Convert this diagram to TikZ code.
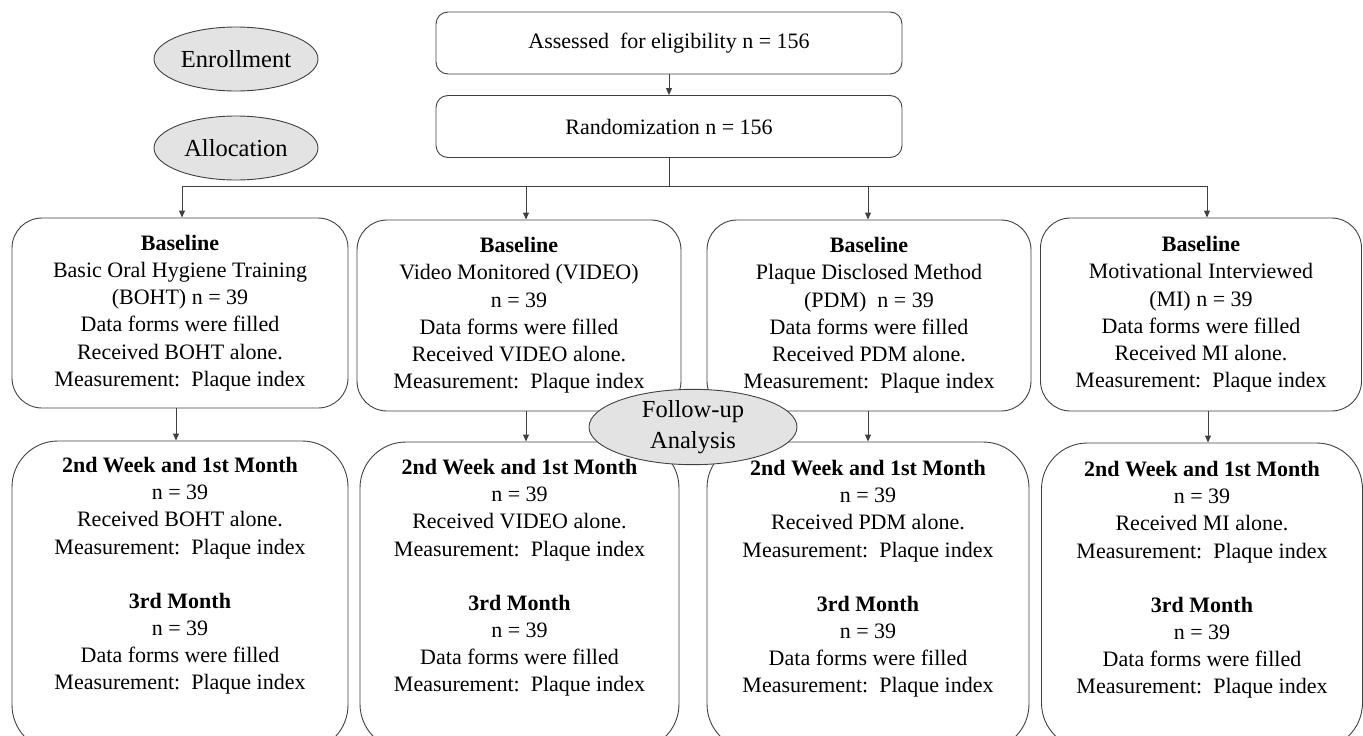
\documentclass[tikz,border=0pt]{standalone}
\usepackage{fontspec}
\setmainfont{Liberation Serif}
\usetikzlibrary{shapes.geometric,arrows.meta}
\begin{document}
\begin{tikzpicture}[x=1pt,y=-1pt,
  line width=0.9pt,
  lc/.style={draw=black!75},
  arr/.style={lc,-{Triangle[length=7pt,width=6pt]}},
  txt/.style={font=\fontsize{22}{27.2}\selectfont,align=center,inner sep=0pt},
  topbox/.style={lc,rounded corners=12pt,minimum width=466pt,minimum height=62pt,txt},
  basebox/.style={lc,rounded corners=30pt,txt},
  fubox/.style={lc,rounded corners=46pt},
  oval/.style={lc,ellipse,fill=black!11,inner sep=0pt,font=\fontsize{24.5}{31}\selectfont,align=center}
]
\useasboundingbox (0,0) rectangle (1363,736);

% top boxes
\node[topbox] (A) at (669,43) {Assessed\ \ for eligibility\ n = 156};
\node[topbox] (R) at (669,126.5) {Randomization\ n = 156};

% side ovals
\node[oval,minimum width=164pt,minimum height=64pt] (EN) at (236,59) {Enrollment};
\node[oval,minimum width=164pt,minimum height=64pt] (AL) at (236,148) {Allocation};

% baseline boxes
\node[basebox,minimum width=336pt,minimum height=190pt] (B1) at (180,313) {\textbf{Baseline}\\Basic Oral Hygiene\ Training\\(BOHT) n = 39\\Data forms were filled\\Received\ BOHT alone.\\Measurement:\ \ Plaque index};
\node[basebox,minimum width=324pt,minimum height=191pt] (B2) at (519,315.5) {\textbf{Baseline}\\Video Monitored (VIDEO)\\n = 39\\Data forms were filled\\Received VIDEO alone.\\Measurement:\ \ Plaque index};
\node[basebox,minimum width=324pt,minimum height=191pt] (B3) at (869,315.5) {\textbf{Baseline}\\Plaque Disclosed Method\\(PDM)\ \ n = 39\\Data forms were filled\\Received PDM alone.\\Measurement:\ \ Plaque index};
\node[basebox,minimum width=321pt,minimum height=193pt] (B4) at (1201,314.5) {\textbf{Baseline}\\Motivational\ Interviewed\\(MI)\ n = 39\\Data forms were filled\\Received\ MI alone.\\Measurement:\ \ Plaque index};

% follow-up boxes
\node[fubox,minimum width=336pt,minimum height=310pt] (C1) at (180,596) {};
\node[fubox,minimum width=319pt,minimum height=308pt] (C2) at (519.5,596) {};
\node[fubox,minimum width=322pt,minimum height=308pt] (C3) at (868,596) {};
\node[fubox,minimum width=321pt,minimum height=306pt] (C4) at (1202,596) {};

\node[txt] (T1) at (C1.center |- 0,576) {\textbf{2nd Week and 1st Month}\\n = 39\\Received\ BOHT alone.\\Measurement:\ \ Plaque index\\[27pt]\textbf{3rd Month}\\n = 39\\Data forms were filled\\Measurement:\ \ Plaque index};
\node[txt] (T2) at (C2.center |- 0,578) {\textbf{2nd Week and 1st Month}\\n = 39\\Received VIDEO alone.\\Measurement:\ \ Plaque index\\[27pt]\textbf{3rd Month}\\n = 39\\Data forms were filled\\Measurement:\ \ Plaque index};
\node[txt] (T3) at (C3.center |- 0,579) {\textbf{2nd Week and 1st Month}\\n = 39\\Received PDM alone.\\Measurement:\ \ Plaque index\\[27pt]\textbf{3rd Month}\\n = 39\\Data forms were filled\\Measurement:\ \ Plaque index};
\node[txt] (T4) at (C4.center |- 0,580) {\textbf{2nd Week and 1st Month}\\n = 39\\Received MI alone.\\Measurement:\ \ Plaque index\\[27pt]\textbf{3rd Month}\\n = 39\\Data forms were filled\\Measurement:\ \ Plaque index};

% connectors
\coordinate (J) at (669,186);
\coordinate (h1) at (182,186);
\coordinate (h2) at (526,186);
\coordinate (h3) at (868,186);
\coordinate (h4) at (1207,186);
\coordinate (v1) at (176,0);
\coordinate (v2) at (526,0);
\coordinate (v3) at (868,0);
\coordinate (v4) at (1208,0);

\draw[arr] (A) -- (R);
\draw[lc] (R.south) -- (J);
\draw[lc] (h1) -- (h4);
\draw[arr] (h1) -- (h1 |- B1.north);
\draw[arr] (h2) -- (h2 |- B2.north);
\draw[arr] (h3) -- (h3 |- B3.north);
\draw[arr] (h4) -- (h4 |- B4.north);

\draw[arr] (v1 |- B1.south) -- (v1 |- C1.north);
\draw[arr] (v2 |- B2.south) -- (v2 |- C2.north);
\draw[arr] (v3 |- B3.south) -- (v3 |- C3.north);
\draw[arr] (v4 |- B4.south) -- (v4 |- C4.north);

% follow-up oval on top
\node[oval,minimum width=208pt,minimum height=66pt] (FU) at (693,427) {Follow-up\\Analysis};
\end{tikzpicture}
\end{document}
